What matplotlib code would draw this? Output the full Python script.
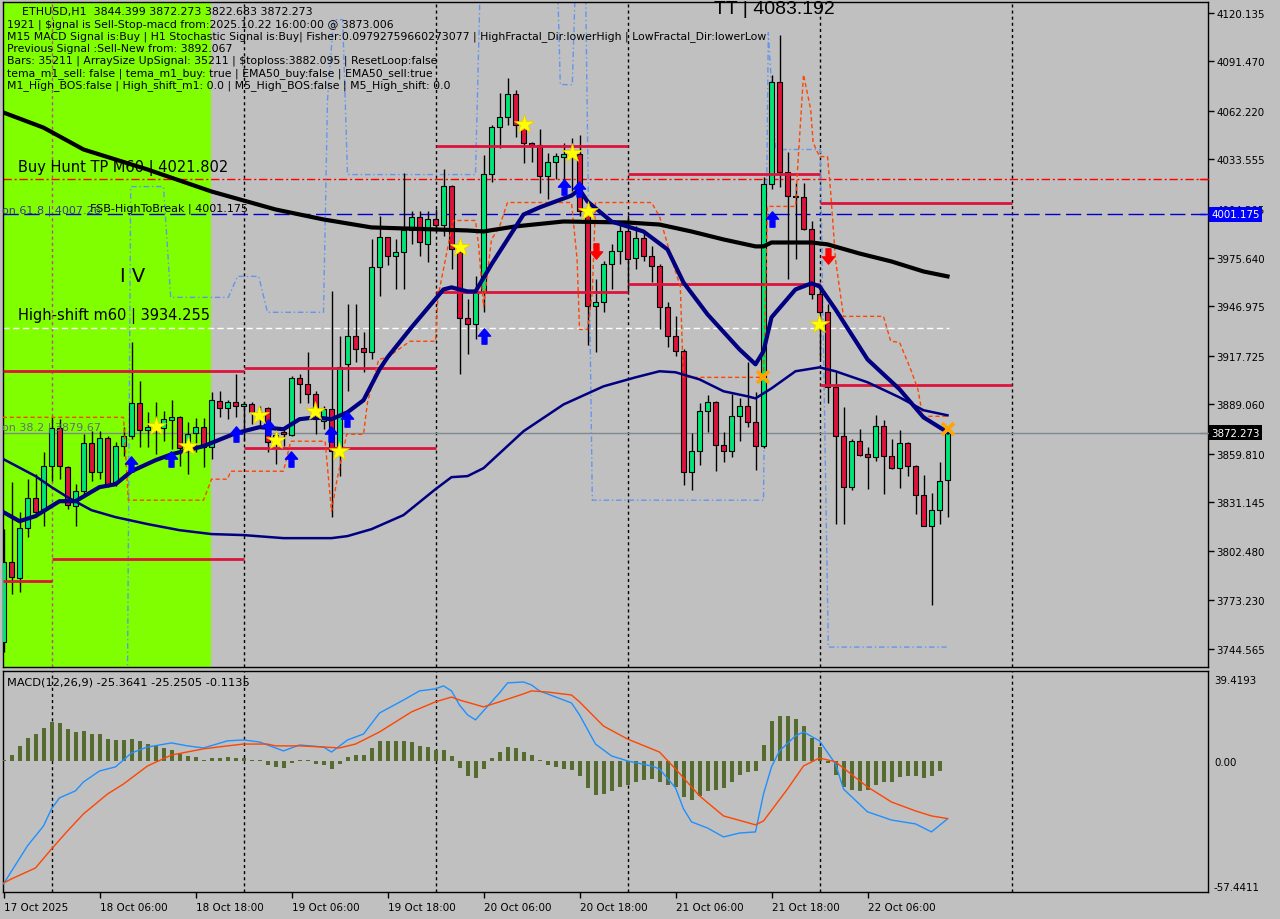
import matplotlib
matplotlib.use('Agg')
import matplotlib.pyplot as plt
import numpy as np
from matplotlib.path import Path
from matplotlib.patches import Rectangle

plt.rcParams['font.family'] = ['DejaVu Sans']

########################################################
# Candles ETHUSD H1 (bar 0 = 17 Oct 18:00)
########################################################
opens = [3748.7, 3795.9, 3786.4, 3815.9, 3833.6, 3827.1, 3852.5, 3874.9, 3851.9, 3828.9,
         3837.7, 3866.0, 3848.9, 3869.0, 3843.0, 3864.3, 3870.2, 3889.6, 3873.7, 3877.2,
         3874.9, 3879.6, 3881.3, 3862.5, 3871.9, 3875.5, 3863.7, 3890.8, 3886.7, 3890.2,
         3887.8, 3889.0, 3884.3, 3886.7, 3867.2, 3872.5, 3870.7, 3904.3, 3900.8, 3894.9,
         3879.0, 3886.1, 3861.3, 3912.6, 3929.1, 3922.0, 3919.7, 3969.8, 3987.5, 3976.3,
         3978.6, 3991.6, 3999.3, 3983.9, 3998.1, 3994.6, 4018.1, 3978.6, 3939.7, 3936.2,
         3955.0, 4025.2, 4052.9, 4058.8, 4072.4, 4054.1, 4043.5, 4042.3, 4024.0, 4032.3,
         4035.2, 4037.0, 4037.0, 4001.0, 3946.8, 3949.2, 3972.1, 3979.2, 3991.0, 3975.1,
         3986.9, 3976.3, 3970.4, 3946.2, 3929.1, 3920.3, 3848.9, 3861.3, 3884.9, 3890.2,
         3864.8, 3861.3, 3881.9, 3887.8, 3878.4, 3864.3, 4019.3, 4079.5, 4026.4, 4012.2,
         4011.1, 3992.2, 3953.9, 3943.3, 3899.0, 3870.2, 3840.1, 3867.2, 3859.5, 3857.8,
         3876.0, 3858.4, 3851.3, 3866.0, 3852.5, 3835.4, 3817.1, 3826.5, 3844.399]
highs = [3815.3, 3843.0, 3825.3, 3844.8, 3847.7, 3860.7, 3881.3, 3880.2, 3852.5, 3841.8,
         3871.3, 3873.1, 3873.1, 3870.2, 3866.6, 3875.5, 3925.6, 3902.6, 3884.3, 3890.2,
         3884.9, 3891.4, 3881.8, 3878.4, 3880.8, 3880.8, 3896.1, 3896.7, 3891.4, 3906.7,
         3890.2, 3890.2, 3887.8, 3887.2, 3872.5, 3874.3, 3905.5, 3906.7, 3919.7, 3896.7,
         3887.8, 3955.6, 3929.1, 3948.0, 3948.0, 3931.5, 3986.3, 3999.9, 3988.0, 3986.3,
         4025.8, 4002.8, 4002.8, 4002.8, 4004.0, 4027.6, 4018.7, 3982.2, 3950.9, 3964.5,
         4036.4, 4054.1, 4073.0, 4081.8, 4074.7, 4058.8, 4043.8, 4051.2, 4037.6, 4037.6,
         4043.5, 4046.4, 4048.2, 4004.0, 3962.7, 3973.3, 3983.4, 3995.1, 4001.0, 3994.0,
         3990.4, 3982.2, 3972.1, 3949.2, 3940.9, 3921.4, 3871.9, 3889.6, 3894.3, 3890.8,
         3872.5, 3894.9, 3892.5, 3913.8, 3896.1, 4022.9, 4083.192, 4107.2, 4038.2, 4019.9,
         4019.9, 3996.9, 3959.8, 3948.0, 3907.9, 3887.2, 3868.4, 3874.3, 3863.7, 3882.5,
         3879.6, 3868.4, 3873.7, 3866.6, 3853.0, 3847.2, 3836.5, 3854.8, 3872.273]
lows = [3742.8, 3777.0, 3778.2, 3810.6, 3822.4, 3817.1, 3843.6, 3844.8, 3827.1, 3817.1,
        3836.0, 3843.6, 3844.8, 3840.1, 3840.7, 3858.4, 3868.4, 3863.7, 3863.7, 3859.5,
        3867.2, 3862.5, 3852.5, 3847.7, 3860.7, 3851.9, 3856.6, 3881.3, 3880.2, 3881.3,
        3867.2, 3877.2, 3876.0, 3860.7, 3853.6, 3864.3, 3870.2, 3889.6, 3889.6, 3871.3,
        3874.3, 3822.4, 3846.6, 3896.7, 3913.8, 3907.9, 3915.5, 3952.7, 3971.0, 3956.8,
        3956.8, 3983.4, 3976.3, 3972.7, 3991.0, 3988.1, 3968.6, 3906.7, 3918.5, 3927.3,
        3943.3, 4020.5, 4040.5, 4054.1, 4047.0, 4031.7, 4032.3, 4014.0, 4009.9, 4021.7,
        4015.8, 4014.6, 3999.9, 3923.8, 3919.7, 3943.3, 3956.8, 3971.6, 3955.0, 3968.6,
        3973.3, 3960.9, 3933.2, 3922.6, 3917.3, 3841.3, 3838.3, 3853.0, 3872.5, 3849.5,
        3854.8, 3857.8, 3867.2, 3875.5, 3850.1, 3863.1, 4015.8, 4017.5, 3962.7, 3974.5,
        3991.6, 3950.9, 3915.5, 3889.6, 3818.3, 3818.3, 3838.3, 3858.4, 3838.9, 3855.4,
        3836.0, 3850.7, 3839.5, 3846.6, 3824.2, 3817.1, 3770.5, 3818.3, 3822.683]
closes = [3795.9, 3787.0, 3815.9, 3833.6, 3825.3, 3852.5, 3874.9, 3852.5, 3829.5, 3837.7,
          3866.0, 3848.9, 3869.0, 3841.3, 3864.3, 3870.2, 3889.6, 3873.7, 3875.5, 3874.3,
          3880.2, 3881.3, 3863.1, 3871.3, 3875.5, 3863.7, 3891.4, 3886.7, 3890.2, 3887.8,
          3889.0, 3884.3, 3881.3, 3866.6, 3870.7, 3871.3, 3904.3, 3900.8, 3894.9, 3880.2,
          3886.1, 3861.3, 3910.8, 3929.1, 3921.4, 3919.7, 3969.8, 3987.5, 3976.3, 3978.6,
          3991.6, 3999.3, 3984.5, 3998.1, 3994.6, 4018.1, 3980.4, 3939.7, 3936.2, 3955.0,
          4025.2, 4052.9, 4058.8, 4072.4, 4054.1, 4043.5, 4042.3, 4024.0, 4032.3, 4035.8,
          4037.0, 4035.2, 4002.8, 3946.8, 3949.2, 3972.1, 3979.2, 3991.0, 3974.5, 3986.9,
          3976.3, 3970.4, 3946.2, 3929.1, 3920.3, 3848.9, 3861.3, 3884.9, 3890.2, 3864.8,
          3861.3, 3881.9, 3887.8, 3878.4, 3864.3, 4019.3, 4079.5, 4026.4, 4012.2, 4011.1,
          3992.2, 3953.9, 3943.3, 3899.0, 3870.2, 3840.1, 3867.2, 3858.9, 3857.8, 3876.0,
          3858.4, 3851.3, 3866.0, 3852.5, 3835.4, 3817.1, 3826.5, 3843.6, 3872.273]

# moving averages (bar index, price)
ma200_x = [0, 5, 10, 18, 26, 34, 40, 46, 58, 60, 64, 70, 78, 82, 86, 90, 94, 95, 96, 101, 103, 107, 111, 115, 118]
ma200_y = [4061.2, 4052.3, 4039.4, 4027.6, 4014.6, 4004.0, 3998.1, 3993.4, 3991.6, 3991.0, 3994.0, 3996.9,
           3996.3, 3995.1, 3991.0, 3986.3, 3982.2, 3982.2, 3984.5, 3984.5, 3983.4, 3978.0, 3973.3, 3967.4, 3964.5]
ma_fast_x = [0, 2, 4, 7, 9, 12, 14, 16, 19, 21, 25, 29, 32, 35, 37, 39, 41, 43, 45, 47, 48, 51, 55, 56, 58,
             59, 61, 65, 67, 71, 72, 73, 76, 80, 83, 85, 88, 92, 94, 95, 96, 99, 101, 102, 104, 108, 112, 115, 118]
ma_fast_y = [3825.3, 3820.0, 3823.0, 3831.8, 3831.8, 3840.1, 3841.8, 3849.5, 3856.0, 3859.5, 3864.3, 3871.9,
             3875.5, 3874.3, 3880.2, 3881.3, 3880.2, 3884.3, 3891.4, 3909.6, 3916.7, 3934.4, 3956.8, 3958.0,
             3955.6, 3955.6, 3971.6, 4001.0, 4005.2, 4012.2, 4015.8, 4008.7, 3996.9, 3991.0, 3980.4, 3960.9,
             3942.1, 3921.4, 3912.6, 3920.3, 3940.3, 3956.8, 3960.4, 3958.6, 3945.0, 3915.5, 3897.9, 3881.3, 3872.5]
ma50_x = [0, 4, 6, 8, 11, 14, 18, 22, 26, 30, 35, 41, 43, 46, 50, 54, 56, 58, 60, 65, 70, 75, 79, 82, 84,
          87, 90, 93, 94, 96, 99, 102, 104, 108, 112, 115, 118]
ma50_y = [3856.6, 3846.6, 3840.1, 3834.2, 3826.5, 3822.4, 3818.3, 3814.7, 3812.4, 3811.8, 3810.0, 3810.0,
          3811.2, 3815.3, 3823.6, 3838.9, 3846.0, 3846.6, 3851.3, 3873.1, 3888.9, 3899.6, 3904.9, 3908.5,
          3907.9, 3903.7, 3896.7, 3893.7, 3892.5, 3898.4, 3908.5, 3910.8, 3908.5, 3902.0, 3893.1, 3885.5, 3882.5]

# stepped channel lines
stop_x = [-0.1, 15, 15.6, 25, 26, 28, 28.4, 35, 35.9, 40.2, 41, 41.7, 42.9, 45, 45.5, 46.9, 48, 50.8, 54, 54.3,
          56.2, 59, 59.4, 60, 61, 62, 63, 71, 71.7, 72, 73, 73.6, 74, 81, 82, 83.8, 84.6, 84.9, 85, 95,
          95.5, 99, 99.2, 100, 100.9, 101.2, 102, 103, 103.4, 104, 105, 110, 110.9, 112, 113.4, 114.3, 114.9, 118]
stop_y = [3881.3, 3881.3, 3832.4, 3832.4, 3844.8, 3844.8, 3849.5, 3849.5, 3867.2, 3867.2, 3825.9, 3844.8,
          3871.3, 3871.3, 3890.2, 3915.5, 3916.7, 3926.2, 3926.2, 3952.1, 3997.5, 3997.5, 3982.2, 3946.8,
          3986.3, 3993.9, 4008.1, 4008.1, 3974.5, 3933.2, 3933.2, 3955.0, 4008.1, 4008.1, 3999.9, 3970.4,
          3958.6, 3915.5, 3904.9, 3904.9, 4005.8, 4005.8, 4023.4, 4083.6, 4063.0, 4043.5, 4035.2, 4035.2,
          4014.0, 3974.5, 3940.9, 3940.9, 3926.2, 3925.6, 3909.6, 3897.9, 3881.9, 3881.9]
band_x = [15.5, 15.9, 20.0, 20.9, 28.1, 29.25, 31.9, 33.0, 40.0, 40.5, 41.25, 42.4, 43.0, 59.0, 59.6, 69.25,
          69.6, 71.1, 71.5, 72.75, 73.6, 95.0, 95.6, 96.5, 102.1, 103.1, 117.9]
band_y = [3730, 4017.5, 4017.5, 3952.1, 3952.1, 3964.5, 3964.5, 3943.3, 3943.3, 4068.8, 4116.0, 4116.0,
          4024.6, 4024.6, 4139.6, 4139.6, 4077.7, 4077.7, 4139.6, 4139.6, 3832.4, 3832.4, 4108.3, 4039.4,
          4039.4, 3745.7, 3745.7]

# daily high / low boxes (start bar, end bar, price)
day_levels = [(-0.1, 30, 3908.5), (30, 54, 3910.2), (30, 54, 3863.1), (6, 30, 3797.6), (-0.1, 6, 3784.7),
              (54, 78, 4041.7), (54, 78, 3955.0), (78, 102, 4025.2), (78, 102, 3959.8),
              (102, 126, 4008.1), (102, 126, 3900.2)]

buy_tp = 4021.802
fsb_high = 4001.175
high_shift = 3934.255
bid = 3872.273

star_x = [19, 23, 31.9, 34, 38.9, 41.9, 57.1, 65, 71, 73, 101.9]
star_y = [3876.0, 3864.3, 3882.5, 3867.8, 3884.9, 3861.3, 3981.6, 4054.7, 4037.6, 4002.8, 3936.2]
buy_x = [15.9, 20.9, 29, 33, 35.9, 40.9, 42.9, 60, 70, 71.9, 96]
buy_y = [3853.6, 3856.6, 3871.3, 3875.5, 3856.6, 3871.3, 3880.2, 3929.1, 4017.5, 4015.8, 3998.1]
sell_x = [74, 103]
sell_y = [3979.2, 3976.3]
cross_x = [94.9, 118]
cross_y = [3904.9, 3874.3]

price_ticks = [4120.135, 4091.470, 4062.220, 4033.555, 4004.305, 3975.640, 3946.975, 3917.725,
               3889.060, 3859.810, 3831.145, 3802.480, 3773.230, 3744.565]

time_ticks = [0, 12, 24, 36, 48, 60, 72, 84, 96, 108]
time_labels = ['17 Oct 2025', '18 Oct 06:00', '18 Oct 18:00', '19 Oct 06:00', '19 Oct 18:00',
               '20 Oct 06:00', '20 Oct 18:00', '21 Oct 06:00', '21 Oct 18:00', '22 Oct 06:00']
day_breaks = [6, 30, 54, 78, 102, 126]

########################################################
# MACD(12,26,9)
########################################################
macd_hist = [0.3, 2.6, 6.6, 10.1, 11.8, 14.5, 17.1, 16.7, 14.0, 12.7,
             13.1, 11.8, 11.8, 9.6, 9.2, 9.2, 9.6, 8.8, 7.4, 6.6,
             5.7, 4.8, 3.1, 2.2, 1.8, 0.4, 1.3, 1.3, 1.8, 1.3,
             1.3, 0.4, 0.3, -1.8, -2.6, -3.1, -0.8, 0.2, 0.2, -1.3,
             -1.8, -3.5, -1.3, 1.8, 2.6, 2.6, 5.7, 8.8, 8.8, 8.8,
             8.8, 8.3, 6.6, 6.1, 4.8, 4.8, 2.2, -3.1, -6.6, -7.4,
             -3.5, 1.3, 3.9, 6.1, 5.7, 3.9, 2.6, 0.4, -1.8, -2.6,
             -3.5, -3.9, -6.6, -11.8, -14.9, -14.5, -13.1, -11.4, -10.5, -9.2,
             -8.3, -7.9, -9.2, -10.5, -11.4, -15.8, -17.1, -15.3, -13.1, -12.7,
             -11.8, -9.2, -6.1, -4.8, -4.4, 7.0, 17.5, 19.7, 19.7, 18.4,
             15.3, 10.1, 6.1, -0.9, -6.1, -11.4, -12.7, -13.1, -12.7, -10.5,
             -9.2, -9.2, -7.0, -6.6, -6.6, -7.4, -6.6, -4.4, -0.1135]
macd_x = [0, 3, 5, 6, 7, 9, 10, 12, 14, 16, 18, 21, 23, 25, 28, 30, 32, 35, 37, 40, 41, 43, 45, 47, 50,
          52, 54, 55, 56, 57, 58, 59, 61, 62, 63, 65, 66, 67, 71, 72, 74, 76, 78, 81, 82, 84, 85, 86, 88,
          90, 92, 94, 95, 96, 97, 99, 100, 102, 104, 105, 108, 111, 114, 116, 118]
macd_y = [-53.9, -37.2, -28.5, -21.0, -16.2, -13.1, -9.2, -4.4, -2.6, 3.5, 6.1, 7.9, 6.6, 5.7, 8.8, 9.2,
          8.3, 4.4, 7.0, 6.1, 3.9, 9.2, 11.8, 21.0, 26.7, 30.7, 31.6, 32.9, 30.7, 24.5, 20.2, 18.0, 25.9,
          29.8, 34.2, 34.6, 33.3, 30.7, 25.4, 20.2, 7.4, 2.2, 0.0, -2.2, -3.5, -11.8, -21.0, -26.7, -29.4,
          -33.3, -31.6, -31.1, -14.5, -2.6, 4.4, 11.0, 12.7, 8.8, -1.3, -12.3, -22.3, -25.9, -27.6, -31.1, -25.3641]
signal_x = [0, 1, 4, 6, 8, 10, 13, 15, 18, 21, 25, 28, 30, 33, 34, 37, 40, 42, 44, 47, 51, 54, 56, 57, 60,
            62, 65, 66, 68, 71, 72, 75, 78, 82, 84, 87, 90, 94, 95, 98, 100, 102, 104, 108, 111, 114, 116, 118]
signal_y = [-53.5, -51.7, -46.9, -38.6, -30.7, -23.2, -14.5, -10.1, -2.2, 2.6, 5.3, 6.6, 7.4, 7.4, 6.6, 6.6,
            6.1, 5.7, 7.4, 12.7, 21.5, 25.9, 28.0, 26.7, 23.7, 25.9, 29.4, 30.7, 30.2, 28.9, 25.9, 15.3, 9.6,
            3.9, -3.5, -15.3, -24.1, -28.0, -26.3, -12.3, -2.2, 1.3, -0.4, -11.4, -18.0, -21.9, -24.1, -25.2505]

info_lines = [
    '1921 | $ignal is Sell-Stop-macd from:2025.10.22 16:00:00 @ 3873.006',
    'M15 MACD Signal is:Buy | H1 Stochastic Signal is:Buy| Fisher:0.09792759660273077 | '
    'HighFractal_Dir:lowerHigh | LowFractal_Dir:lowerLow',
    'Previous Signal :Sell-New from: 3892.067',
    'Bars: 35211 | ArraySize UpSignal: 35211 | $toploss:3882.095 | ResetLoop:false',
    'tema_m1_sell: false | tema_m1_buy: true | EMA50_buy:false | EMA50_sell:true',
    'M1_High_BOS:false | High_shift_m1: 0.0 | M5_High_BOS:false | M5_High_shift: 0.0',
]

########################################################
# Figure layout (pixel helpers)
########################################################
W, H = 1280, 920
BG = '#C0C0C0'
fig = plt.figure(figsize=(12.8, 9.2), dpi=100, facecolor=BG)


def fx(px):
    return px / W


def fy(py):
    return 1 - py / H


ax = fig.add_axes([fx(3), fy(668), fx(1208) - fx(3), fy(3) - fy(668)], facecolor=BG)
mx = fig.add_axes([fx(3), fy(893), fx(1208) - fx(3), fy(672) - fy(893)], facecolor=BG)

xl = (-0.0625, 150.5625)
for a in (ax, mx):
    a.set_xlim(*xl)
    for s in a.spines.values():
        s.set_color('black')
        s.set_linewidth(1)
ax.set_ylim(3733.94, 4126.45)
mx.set_ylim(-57.4411, 39.4193)

# green background zone
ax.add_patch(Rectangle((xl[0], 3700), 25.94 - xl[0], 500, facecolor='#7FFF00', edgecolor='none', zorder=0.5))

# day separators
for i, d in enumerate(day_breaks):
    c = '#B0508F' if i == 0 else 'black'
    ax.axvline(d, color=c, lw=1, dashes=(2.2, 2.2), zorder=1)
    mx.axvline(d, color='black', lw=1, dashes=(2.2, 2.2), zorder=1)

# candles
idx = np.arange(len(opens))
o = np.array(opens)
c = np.array(closes)
up = c >= o
ax.vlines(idx, lows, highs, color='black', lw=1, zorder=3)
body_bot = np.minimum(o, c)
body_h = np.maximum(np.abs(c - o), 0.7)
ax.bar(idx, body_h, bottom=body_bot, width=0.72, color=np.where(up, '#00E676', '#DC143C'),
       edgecolor='black', linewidth=0.8, zorder=4)

# levels
for x0, x1, p in day_levels:
    ax.plot([x0, x1], [p, p], color='#DC143C', lw=2, solid_capstyle='butt', zorder=5)
ax.axhline(buy_tp, color='#FF0000', lw=1, dashes=(6, 2, 1.5, 2), zorder=2)
ax.axhline(fsb_high, color='#0000CD', lw=1, dashes=(11, 4), zorder=2)
ax.axhline(bid, color='#7F8A90', lw=1, zorder=2)
ax.plot([xl[0], 118.2], [high_shift, high_shift], color='white', lw=1, dashes=(4.5, 2.5), zorder=2)

# channel lines
ax.plot(band_x, band_y, color='#6495ED', lw=1, dashes=(4, 2, 1, 2), zorder=2)
ax.plot(stop_x, stop_y, color='#FF4500', lw=1, dashes=(3, 2), zorder=5)

# moving averages
ax.plot(ma50_x, ma50_y, color='#000080', lw=1.8, zorder=6)
ax.plot(ma200_x, ma200_y, color='black', lw=3, zorder=6)
ax.plot(ma_fast_x, ma_fast_y, color='#000080', lw=3, zorder=6)

# signals
up_arrow = Path([(0, 1), (-0.8, 0.05), (-0.32, 0.05), (-0.32, -1), (0.32, -1), (0.32, 0.05), (0.8, 0.05), (0, 1)],
                [Path.MOVETO] + [Path.LINETO] * 6 + [Path.CLOSEPOLY])
down_arrow = Path([(x, -y) for x, y in up_arrow.vertices], up_arrow.codes)
ax.plot(buy_x, buy_y, ls='none', marker=up_arrow, ms=11, color='#0000FF', zorder=7)
ax.plot(sell_x, sell_y, ls='none', marker=down_arrow, ms=11, color='#FF0000', zorder=7)
ax.plot(star_x, star_y, ls='none', marker='*', ms=15, color='#FFFF00', mec='#E8C800', mew=0.5, zorder=7)
ax.plot(cross_x, cross_y, ls='none', marker='x', ms=8, mew=2.6, color='#FFA500', zorder=7)

# price axis
ax.yaxis.tick_right()
ax.set_yticks(price_ticks)
ax.set_yticklabels([f'{v:.3f}' for v in price_ticks])
ax.tick_params(axis='y', direction='out', length=4, width=1, pad=2, labelsize=7.4, colors='black')
ax.set_xticks([])
tr = ax.get_yaxis_transform()
ax.text(1.003, fsb_high, f'{fsb_high:.3f}', transform=tr, va='center', ha='left', fontsize=7.4,
        color='white', bbox=dict(facecolor='#0000FF', edgecolor='none', pad=1.6), zorder=10, clip_on=False)
ax.text(1.003, bid, f'{bid:.3f}', transform=tr, va='center', ha='left', fontsize=7.4,
        color='white', bbox=dict(facecolor='black', edgecolor='none', pad=1.6), zorder=10, clip_on=False)
for p, col in [(buy_tp, '#FF0000'), (fsb_high, '#0000FF'), (bid, '#7F8A90')]:
    ax.plot([0.993, 1.0], [p, p], transform=tr, color=col, lw=1, clip_on=False, zorder=9)

# MACD panel
mx.bar(idx, macd_hist, width=0.5, color='#556B2F', zorder=3)
mx.plot(macd_x, macd_y, color='#1E90FF', lw=1, zorder=4)
mx.plot(signal_x, signal_y, color='#FF4500', lw=1, zorder=4)
mx.set_yticks([])
mx.set_xticks(time_ticks)
mx.set_xticklabels(time_labels, ha='left')
mx.tick_params(axis='x', direction='out', length=4, width=1, pad=3, labelsize=7.5, colors='black')
fig.text(fx(1214), fy(681), '39.4193', fontsize=7.4, va='center', ha='left')
fig.text(fx(1214), fy(763), '0.00', fontsize=7.4, va='center', ha='left')
fig.text(fx(1214), fy(888), '-57.4411', fontsize=7.4, va='center', ha='left')
fig.text(fx(7), fy(683), 'MACD(12,26,9) -25.3641 -25.2505 -0.1135', fontsize=8.2, va='center', ha='left')

# chart comments
fig.text(fx(22), fy(12), 'ETHUSD,H1  3844.399 3872.273 3822.683 3872.273', fontsize=7.9, va='center', ha='left')
for k, line in enumerate(info_lines):
    fig.text(fx(7), fy(24.5 + 12.2 * k), line, fontsize=7.85, va='center', ha='left')

fig.text(fx(18), fy(168), 'Buy Hunt TP M60 | 4021.802', fontsize=10.5, va='center', ha='left')
fig.text(fx(18), fy(316), 'High-shift m60 | 3934.255', fontsize=10.5, va='center', ha='left')
fig.text(fx(90), fy(209), 'FSB-HighToBreak | 4001.175', fontsize=8, va='center', ha='left')
fig.text(fx(2), fy(211), 'on 61.8 | 4007.26', fontsize=8, va='center', ha='left', color='#3C3C8C')
fig.text(fx(2), fy(428), 'on 38.2 | 3879.67', fontsize=8, va='center', ha='left', color='#5E6E7E')
fig.text(fx(120), fy(276), 'I V', fontsize=14, va='center', ha='left')
fig.text(fx(714), fy(10), 'TT | 4083.192', fontsize=14, va='center', ha='left', family='Liberation Sans')

fig.savefig('out.png', dpi=100, facecolor=BG)
